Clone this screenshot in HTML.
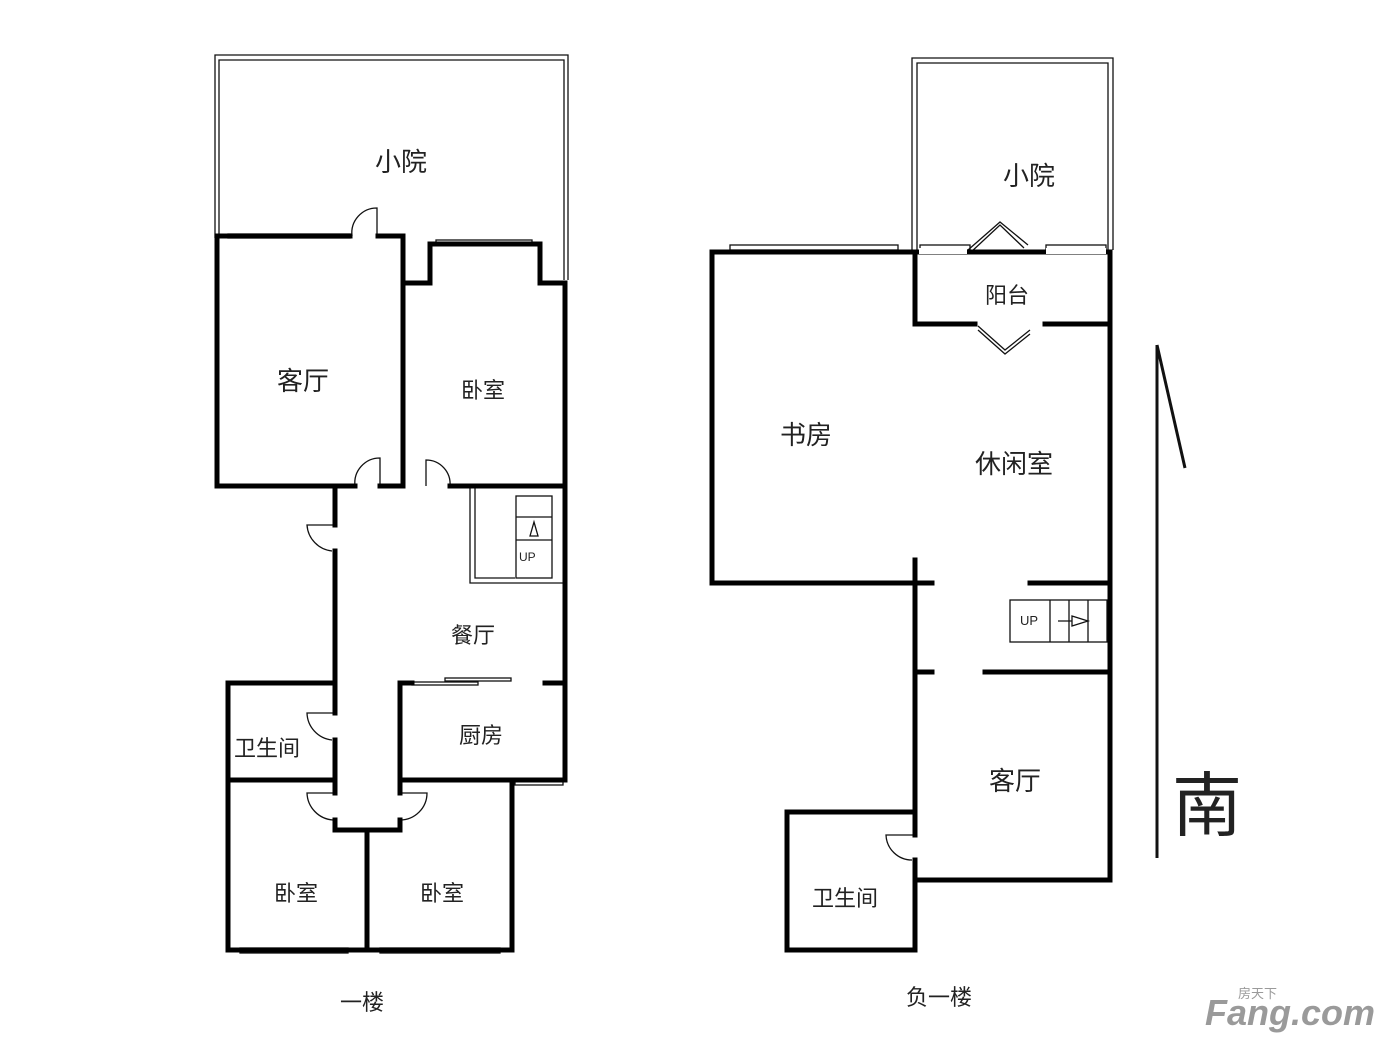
<!DOCTYPE html>
<html><head><meta charset="utf-8"><style>
body{margin:0;background:#fff}
svg{display:block}
text{font-family:"Liberation Sans","Noto Sans CJK SC",sans-serif;fill:#222}
</style></head><body>
<svg width="1400" height="1050" viewBox="0 0 1400 1050" xmlns="http://www.w3.org/2000/svg">
<g fill="none" stroke="#111" stroke-width="1.3">
 <polyline points="215,238 215,55 568,55 568,280"/>
 <polyline points="219,238 219,60 564,60 564,280"/>
 <polyline points="912,250 912,58 1113,58 1113,250"/>
 <polyline points="917,250 917,63 1108,63 1108,250"/>
 <rect x="228" y="234" width="122" height="4"/>
 <rect x="436" y="240" width="96" height="5"/>
 <rect x="240" y="948" width="108" height="5"/>
 <rect x="380" y="948" width="120" height="5"/>
 <rect x="515" y="780" width="48" height="5"/>
 <rect x="730" y="245" width="168" height="5"/>
 <rect x="920" y="245" width="50" height="5"/>
 <rect x="1046" y="245" width="60" height="5"/>
 <polyline points="470,488 470,583 563,583"/>
 <polyline points="475,488 475,578 515,578"/>
 <rect x="516" y="496" width="36" height="82"/>
 <line x1="516" y1="517" x2="552" y2="517"/><line x1="516" y1="540" x2="552" y2="540"/>
 <path d="M530,536 L534,522 L538,536 Z"/>
 <rect x="1010" y="600" width="97" height="42"/>
 <line x1="1050" y1="600" x2="1050" y2="642"/><line x1="1069" y1="600" x2="1069" y2="642"/><line x1="1088" y1="600" x2="1088" y2="642"/>
 <path d="M1058,621 H1072 M1072,616 L1088,621 L1072,626 Z"/>
 <path d="M352,236 A25,25 0 0 1 377,208 V236"/>
 <path d="M355,486 A25,25 0 0 1 380,458 V486"/>
 <path d="M450,486 A24,24 0 0 0 426,460 V486"/>
 <path d="M335,525 H307 A28,28 0 0 0 332,551"/>
 <path d="M335,713 H307 A28,28 0 0 0 332,740"/>
 <path d="M335,793 H307 A28,28 0 0 0 333,820"/>
 <path d="M398,793 H427 A27,27 0 0 1 400,820"/>
 <path d="M915,835 H886 A26,26 0 0 0 912,860"/>
 <rect x="412" y="682" width="66" height="3"/><rect x="445" y="678" width="66" height="3"/>
 <polyline points="968,250 1000,222 1028,245"/>
 <polyline points="970,253 1000,225 1024,248"/>
 <polyline points="978,326 1005,350 1030,330"/>
 <polyline points="978,330 1005,354 1030,334"/>
 <line x1="1157" y1="345" x2="1157" y2="858" stroke-width="3"/>
 <line x1="1157" y1="345" x2="1185" y2="468" stroke-width="3"/>
</g>
<g fill="none" stroke="#000" stroke-width="5" stroke-linecap="square">
 <polyline points="350,236 217,236 217,486 355,486"/>
 <polyline points="378,236 403,236 403,486 380,486"/>
 <polyline points="403,283 430,283 430,244 540,244 540,283 565,283 565,780 400,780 400,683 412,683"/>
 <line x1="450" y1="486" x2="565" y2="486"/>
 <line x1="545" y1="683" x2="565" y2="683"/>
 <line x1="335" y1="486" x2="335" y2="525"/>
 <line x1="335" y1="551" x2="335" y2="713"/>
 <line x1="335" y1="740" x2="335" y2="793"/>
 <polyline points="335,820 335,830 400,830 400,820"/>
 <polyline points="335,683 228,683 228,950 512,950 512,780 400,780 400,793"/>
 <line x1="228" y1="780" x2="335" y2="780"/>
 <line x1="367" y1="830" x2="367" y2="950"/>
 <polyline points="915,583 712,583 712,252 1110,252 1110,880 915,880 915,860"/>
 <line x1="915" y1="252" x2="915" y2="322"/>
 <line x1="915" y1="324" x2="975" y2="324"/>
 <line x1="1045" y1="324" x2="1110" y2="324"/>
 <line x1="915" y1="560" x2="915" y2="835"/>
 <line x1="915" y1="583" x2="932" y2="583"/>
 <line x1="915" y1="672" x2="932" y2="672"/>
 <line x1="1030" y1="583" x2="1110" y2="583"/>
 <line x1="985" y1="672" x2="1110" y2="672"/>
 <polyline points="915,812 787,812 787,950 915,950 915,860"/>
</g>
<g fill="#fff" stroke="none">
 <rect x="919" y="248" width="48" height="6"/>
 <rect x="1046" y="248" width="60" height="6"/>
</g>
<g font-size="26">
 <text x="375" y="171">小院</text>
 <text x="277" y="390">客厅</text>
 <text x="1003" y="185">小院</text>
 <text x="780" y="444">书房</text>
 <text x="975" y="473">休闲室</text>
 <text x="989" y="790">客厅</text>
</g>
<g font-size="22">
 <text x="461" y="398">卧室</text>
 <text x="451" y="643">餐厅</text>
 <text x="459" y="743">厨房</text>
 <text x="234" y="756">卫生间</text>
 <text x="274" y="901">卧室</text>
 <text x="420" y="901">卧室</text>
 <text x="985" y="303">阳台</text>
 <text x="812" y="906">卫生间</text>
 <text x="340" y="1010">一楼</text>
 <text x="906" y="1005">负一楼</text>
</g>
<text x="519" y="561" font-size="12">UP</text>
<text x="1020" y="625" font-size="13">UP</text>
<text x="1172" y="830" font-size="70">南</text>
<text x="1205" y="1025" font-size="36" font-weight="bold" style="fill:#9a9a9a;font-style:italic">Fang.com</text>
<text x="1238" y="998" font-size="13" style="fill:#9a9a9a">房天下</text>
</svg>
</body></html>
